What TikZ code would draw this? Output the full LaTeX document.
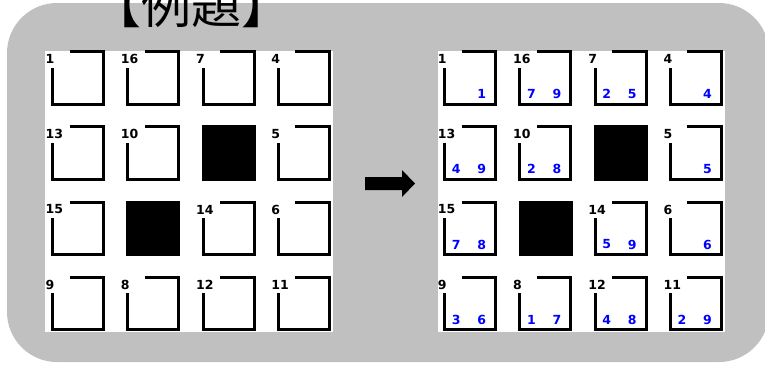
\documentclass[tikz,border=0pt]{standalone}
\usepackage{fontspec}
\usepackage{tikz}
\setsansfont{DejaVu Sans}
\newfontfamily\jpfont{Noto Sans CJK JP}
\definecolor{framegray}{HTML}{C0C0C0}
\definecolor{hintblue}{HTML}{0000FF}

\tikzset{
    cellbox/.pic={
        \draw[wall] (17,0) -| (51,52.5) -| (0,16);
        \node[tag, anchor=west] (-tag) at (-7,7.5) {#1};
        \coordinate (-lo) at (11.5,42.5);
        \coordinate (-hi) at (37,42.5);
    },
}

\begin{document}
\begin{tikzpicture}[x=1pt, y=-1pt,
    wall/.style={line width=3pt, black},
    tag/.style={font=\sffamily\bfseries\fontsize{12.5}{12.5}\selectfont, inner sep=0pt},
    digit/.style={font=\sffamily\bfseries\fontsize{12.5}{12.5}\selectfont, text=hintblue, inner sep=0pt},
    blocked/.style={fill=black, anchor=north west, inner sep=0pt, minimum width=54pt, minimum height=55.5pt},
]
    \useasboundingbox (0,0) rectangle (765,365);
    \clip (0,0) rectangle (765,365);

    % === frame and boards ===
    \fill[framegray, rounded corners=50pt] (7,3) rectangle (769,362);
    \fill[white] (45,50.7) rectangle (333,332);
    \fill[white] (438,50.7) rectangle (725,332);
    \node[font=\jpfont\fontsize{50}{50}\selectfont, anchor=base, inner sep=0pt] (title) at (191,23) {【例題】};

    % === cells ===
    \foreach \lbl/\c/\r in {1/0/0, 16/1/0, 7/2/0, 4/3/0, 13/0/1, 10/1/1, 5/3/1,
                            15/0/2, 14/2/2, 6/3/2, 9/0/3, 8/1/3, 12/2/3, 11/3/3} {
        \pic (L\lbl) at (52.5+75.25*\c, 51.5+75.25*\r) {cellbox=\lbl};
        \pic (R\lbl) at (444.7+75.25*\c, 51.5+75.25*\r) {cellbox=\lbl};
    }
    \node[blocked] (Lblock1) at (201.5,125.25) {};
    \node[blocked] (Lblock2) at (126.25,200.5) {};
    \node[blocked] (Rblock1) at (593.7,125.25) {};
    \node[blocked] (Rblock2) at (518.45,200.5) {};

    % === hints ===
    \foreach \lbl/\lo/\hi in {16/7/9, 7/2/5, 13/4/9, 10/2/8, 15/7/8, 14/5/9,
                              9/3/6, 8/1/7, 12/4/8, 11/2/9} {
        \node[digit] (R\lbl-a) at (R\lbl-lo) {\lo};
        \node[digit] (R\lbl-b) at (R\lbl-hi) {\hi};
    }
    \foreach \lbl in {1, 4, 5, 6}
        \node[digit] (R\lbl-b) at (R\lbl-hi) {\lbl};

    % arrow
    \fill (365,177) -- (402,177) -- (402,170) -- (415,183.5) -- (402,197) -- (402,190) -- (365,190) -- cycle;
\end{tikzpicture}
\end{document}
